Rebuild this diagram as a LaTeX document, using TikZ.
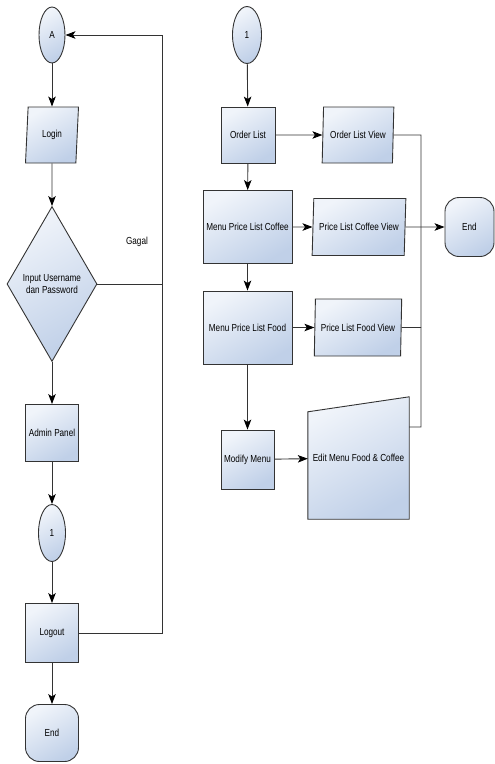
\documentclass[tikz,border=0pt]{standalone}
\usepackage{fontspec}
\setmainfont{Liberation Sans}[FakeStretch=0.8]
\usetikzlibrary{shapes.geometric,arrows.meta,backgrounds}
\definecolor{lite}{HTML}{F0F4FA}
\definecolor{dark}{HTML}{C0D0E8}
\definecolor{edge}{HTML}{333333}
\begin{document}
\begin{tikzpicture}[x=1pt,y=-1pt,
  font=\fontsize{10.2}{11.5}\selectfont,
  base/.style={draw=edge, line width=0.9pt, top color=lite, bottom color=dark, shading angle=30, inner sep=1pt, align=center},
  proc/.style={base, rectangle},
  conn/.style={base, ellipse, inner sep=0pt},
  term/.style={base, rectangle, rounded corners=14pt},
  io/.style={base, trapezium, trapezium stretches=true},
  dec/.style={base, diamond, inner sep=0pt},
  line/.style={draw=black!80, line width=0.9pt},
  arr/.style={line, -{Stealth[length=10pt,width=7.5pt,inset=2.5pt,color=black,fill=black]}}
]
\useasboundingbox (0,0) rectangle (495,764);
% ---- left column ----
\node[conn, minimum width=26, minimum height=56] (A) at (52,35) {A};
\node[io, minimum width=53, minimum height=56, trapezium left angle=84, trapezium right angle=96] (login) at (52,135) {Login};
\node[dec, minimum width=90, minimum height=155] (dia) at (52,284) {Input Username\\dan Password};
\node[proc, minimum width=53, minimum height=57] (admin) at (52,433) {Admin Panel};
\node[conn, minimum width=27, minimum height=57] (c1L) at (52,533) {1};
\node[proc, minimum width=53, minimum height=59] (logout) at (52,633) {Logout};
\node[term, minimum width=53, minimum height=57] (endL) at (52,733) {End};
\node (gagal) at (137,242) {Gagal};
\coordinate (fbTop) at (162,35);
\coordinate (fbMid) at (162,284);
\coordinate (fbBot) at (162,633);

\draw[arr] (A) -- (login);
\draw[arr] (login) -- (dia);
\draw[arr] (dia) -- (admin);
\draw[arr] (admin) -- (c1L);
\draw[arr] (c1L) -- (logout);
\draw[arr] (logout) -- (endL);
\draw[arr] (dia.east) -- (fbMid) -- (fbTop) -- (A.east);
\draw[line] (logout.east) -- (fbBot) -- (fbMid);

% ---- right column ----
\node[conn, minimum width=29, minimum height=57] (c1R) at (247,35) {1};
\node[proc, minimum width=54, minimum height=56] (order) at (248,135) {Order List};
\node[io, minimum width=72, minimum height=56, trapezium left angle=83, trapezium right angle=97] (olv) at (358,135) {Order List View};
\node[proc, minimum width=89, minimum height=73] (coffee) at (247.5,227) {Menu Price List Coffee};
\node[io, minimum width=94, minimum height=57, trapezium left angle=81, trapezium right angle=99] (pcv) at (359,227) {Price List Coffee View};
\node[term, minimum width=49, minimum height=59] (endR) at (469.5,227) {End};
\node[proc, minimum width=89, minimum height=73] (food) at (247.5,327.5) {Menu Price List Food};
\node[io, minimum width=88, minimum height=57, trapezium left angle=84, trapezium right angle=96] (pfv) at (358,327.5) {Price List Food View};
\node[proc, minimum width=53, minimum height=59] (modify) at (247.5,459.5) {Modify Menu};
\node[minimum width=101, minimum height=122, inner sep=0pt] (edit) at (358.5,458) {Edit Menu Food \& Coffee};
\begin{scope}[on background layer]
  \path[base] (edit.south west) -- ([yshift=-15pt]edit.north west) -- (edit.north east) -- (edit.south east) -- cycle;
\end{scope}
\coordinate (rTop) at (421,135);
\coordinate (rFood) at (421,327.5);
\coordinate (rBot) at (421,427);

\draw[arr] (c1R) -- (order);
\draw[arr] (order) -- (coffee);
\draw[arr] (coffee) -- (food);
\draw[arr] (food) -- (modify);
\draw[arr] (order) -- (olv);
\draw[arr] (coffee) -- (pcv);
\draw[arr] (food) -- (pfv);
\draw[arr] (modify) -- (edit);
\draw[arr] (pcv) -- (endR);
\draw[line] (olv.east) -- (rTop) -- (rBot) -- (rBot -| edit.east);
\draw[line] (pfv.east) -- (rFood);
\end{tikzpicture}
\end{document}
